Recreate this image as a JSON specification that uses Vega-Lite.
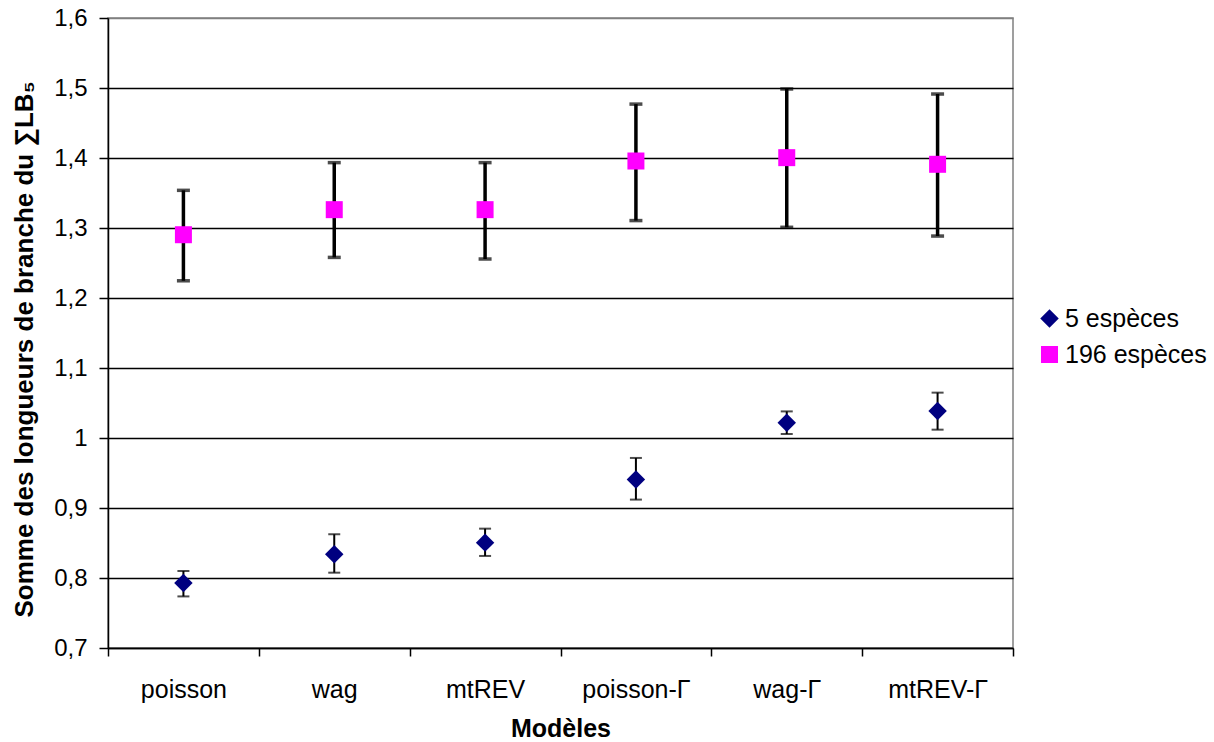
{
  "$schema": "https://vega.github.io/schema/vega-lite/v6.json",
  "autosize": {"type": "none"},
  "padding": {"left": 108, "top": 18, "right": 201, "bottom": 94},
  "width": 905,
  "height": 630,
  "background": "white",
  "config": {
    "font": "Liberation Sans",
    "view": {"stroke": "#808080", "strokeWidth": 1.5}
  },
  "data": {
    "values": [
      {"model": "poisson", "series": "5 espèces", "mean": 0.7928, "lo": 0.7737, "hi": 0.810},
      {"model": "wag", "series": "5 espèces", "mean": 0.8339, "lo": 0.8076, "hi": 0.8625},
      {"model": "mtREV", "series": "5 espèces", "mean": 0.8505, "lo": 0.8315, "hi": 0.8705},
      {"model": "poisson-Γ", "series": "5 espèces", "mean": 0.9406, "lo": 0.912, "hi": 0.9715},
      {"model": "wag-Γ", "series": "5 espèces", "mean": 1.0219, "lo": 1.0057, "hi": 1.038},
      {"model": "mtREV-Γ", "series": "5 espèces", "mean": 1.0386, "lo": 1.0119, "hi": 1.0648},
      {"model": "poisson", "series": "196 espèces", "mean": 1.2904, "lo": 1.2246, "hi": 1.3538},
      {"model": "wag", "series": "196 espèces", "mean": 1.3262, "lo": 1.258, "hi": 1.3934},
      {"model": "mtREV", "series": "196 espèces", "mean": 1.3262, "lo": 1.2557, "hi": 1.3934},
      {"model": "poisson-Γ", "series": "196 espèces", "mean": 1.3957, "lo": 1.3106, "hi": 1.477},
      {"model": "wag-Γ", "series": "196 espèces", "mean": 1.4005, "lo": 1.301, "hi": 1.4986},
      {"model": "mtREV-Γ", "series": "196 espèces", "mean": 1.391, "lo": 1.2885, "hi": 1.4914}
    ]
  },
  "encoding": {
    "x": {
      "field": "model",
      "type": "nominal",
      "sort": ["poisson", "wag", "mtREV", "poisson-Γ", "wag-Γ", "mtREV-Γ"],
      "scale": {"paddingInner": 0, "paddingOuter": 0},
      "axis": {
        "title": "Modèles",
        "titleFontSize": 25,
        "titleFontWeight": "bold",
        "titleColor": "black",
        "titleBaseline": "alphabetic",
        "titleY": 88,
        "labelAngle": 0,
        "labelFontSize": 25,
        "labelColor": "black",
        "labelPadding": 21,
        "labelBaseline": "top",
        "tickBand": "extent",
        "tickSize": 8,
        "tickColor": "black",
        "tickWidth": 1.5,
        "domainColor": "black",
        "domainWidth": 1.5,
        "grid": false
      }
    }
  },
  "layer": [
    {
      "transform": [{"filter": "datum.series === '5 espèces'"}],
      "mark": {"type": "rule", "color": "black", "strokeWidth": 2},
      "encoding": {
        "y": {"field": "lo", "type": "quantitative"},
        "y2": {"field": "hi"}
      }
    },
    {
      "transform": [{"filter": "datum.series === '5 espèces'"}],
      "mark": {"type": "tick", "color": "black", "thickness": 2, "size": 12, "orient": "horizontal"},
      "encoding": {"y": {"field": "lo", "type": "quantitative"}}
    },
    {
      "transform": [{"filter": "datum.series === '5 espèces'"}],
      "mark": {"type": "tick", "color": "black", "thickness": 2, "size": 12, "orient": "horizontal"},
      "encoding": {"y": {"field": "hi", "type": "quantitative"}}
    },
    {
      "transform": [{"filter": "datum.series === '196 espèces'"}],
      "mark": {"type": "rule", "color": "black", "strokeWidth": 3.5},
      "encoding": {
        "y": {"field": "lo", "type": "quantitative"},
        "y2": {"field": "hi"}
      }
    },
    {
      "transform": [{"filter": "datum.series === '196 espèces'"}],
      "mark": {"type": "tick", "color": "black", "thickness": 3.5, "size": 13, "orient": "horizontal"},
      "encoding": {"y": {"field": "lo", "type": "quantitative"}}
    },
    {
      "transform": [{"filter": "datum.series === '196 espèces'"}],
      "mark": {"type": "tick", "color": "black", "thickness": 3.5, "size": 13, "orient": "horizontal"},
      "encoding": {"y": {"field": "hi", "type": "quantitative"}}
    },
    {
      "mark": {"type": "point", "filled": true, "opacity": 1, "strokeWidth": 0},
      "encoding": {
        "y": {
          "field": "mean",
          "type": "quantitative",
          "scale": {"domain": [0.7, 1.6], "nice": false, "zero": false},
          "axis": {
            "title": "Somme des longueurs de branche du ∑LB₅",
            "titleFontSize": 26,
            "titleFontWeight": "bold",
            "titleColor": "black",
            "titleAngle": -90,
            "titleAlign": "center",
            "titleBaseline": "alphabetic",
            "titleX": -76,
            "titleY": 331,
            "values": [0.7, 0.8, 0.9, 1.0, 1.1, 1.2, 1.3, 1.4, 1.5, 1.6],
            "labelExpr": "replace(format(datum.value, '.2~f'), '.', ',')",
            "labelFontSize": 24,
            "labelColor": "black",
            "labelPadding": 12,
            "tickSize": 9,
            "tickColor": "black",
            "tickWidth": 1.5,
            "domainColor": "black",
            "domainWidth": 1.5,
            "grid": true,
            "gridColor": {"condition": {"test": "datum.value >= 1.59", "value": "#808080"}, "value": "black"},
            "gridWidth": 1.5
          }
        },
        "color": {
          "field": "series",
          "type": "nominal",
          "sort": ["5 espèces", "196 espèces"],
          "scale": {"domain": ["5 espèces", "196 espèces"], "range": ["#000080", "#FF00FF"]},
          "legend": {
            "title": null,
            "orient": "none",
            "legendX": 929,
            "legendY": 288,
            "padding": 0,
            "labelFontSize": 25,
            "labelColor": "black",
            "labelOffset": 3,
            "symbolSize": 300,
            "rowPadding": 10
          }
        },
        "shape": {
          "field": "series",
          "type": "nominal",
          "sort": ["5 espèces", "196 espèces"],
          "scale": {"domain": ["5 espèces", "196 espèces"], "range": ["diamond", "square"]}
        },
        "size": {
          "field": "series",
          "type": "nominal",
          "scale": {"domain": ["5 espèces", "196 espèces"], "range": [340, 289]},
          "legend": null
        }
      }
    }
  ]
}
